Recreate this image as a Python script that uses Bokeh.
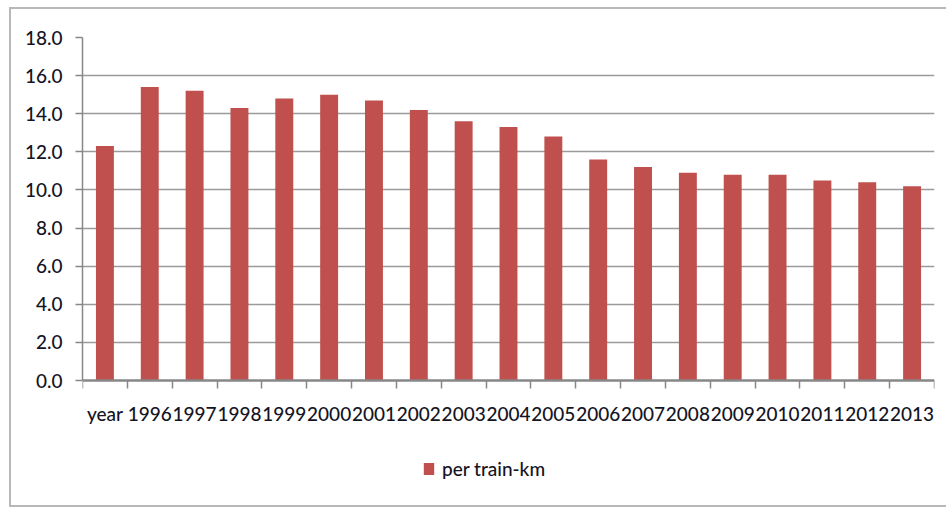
from bokeh.plotting import figure
from bokeh.models import (ColumnDataSource, Range1d, FixedTicker, Legend, LegendItem,
                          NumeralTickFormatter, InlineStyleSheet)
from bokeh.embed import file_html
from bokeh.resources import INLINE

# Category labels along the x axis (first row is the header cell "year")
categories = ["year", "1996", "1997", "1998", "1999", "2000", "2001", "2002", "2003",
              "2004", "2005", "2006", "2007", "2008", "2009", "2010", "2011", "2012", "2013"]
# Series values
per_train_km = [12.3, 15.4, 15.2, 14.3, 14.8, 15.0, 14.7, 14.2, 13.6,
                13.3, 12.8, 11.6, 11.2, 10.9, 10.8, 10.8, 10.5, 10.4, 10.2]
series_name = "per train-km"
# Value axis ticks
y_ticks = [0, 2, 4, 6, 8, 10, 12, 14, 16, 18]

FONT = "Lato Medium, Lato"
TEXT_COLOR = "#141424"
BAR_COLOR = "#C0504D"
GRID_COLOR = "#9a9a9a"
AXIS_COLOR = "#878787"
BORDER_COLOR = "#b8b8b8"

# layout (pixels): plot area 852 x 343, with room below it for labels and legend
PLOT_W, PLOT_H = 852, 343
LEFT, RIGHT, TOP, BELOW = 82, 12, 37, 128

n = len(categories)
centers = [i + 0.5 for i in range(n)]
bounds = list(range(n + 1))
y_max = y_ticks[-1]
y_min = -y_max * BELOW / PLOT_H   # frame continues below zero to hold labels/legend

source = ColumnDataSource(dict(x=centers, top=per_train_km, label=categories))

# thin chart-area border drawn behind the (transparent) canvas border region
border_css = InlineStyleSheet(css=f"""
:host {{
  background-color: white;
  background-image: linear-gradient({BORDER_COLOR}, {BORDER_COLOR}),
                    linear-gradient({BORDER_COLOR}, {BORDER_COLOR}),
                    linear-gradient({BORDER_COLOR}, {BORDER_COLOR});
  background-size: 2px 500px, 937px 2px, 937px 2px;
  background-position: 9px 7px, 9px 7px, 9px 505px;
  background-repeat: no-repeat;
}}
""")

p = figure(frame_width=PLOT_W, frame_height=PLOT_H + BELOW, output_backend="svg",
           toolbar_location=None,
           x_range=Range1d(0, n), y_range=Range1d(y_min, y_max),
           min_border_left=LEFT, min_border_right=RIGHT, min_border_top=TOP,
           min_border_bottom=0, background_fill_alpha=0,
           border_fill_alpha=0, stylesheets=[border_css])
p.outline_line_color = None

bars = p.vbar(x="x", top="top", bottom=0, width=0.4, source=source,
              fill_color=BAR_COLOR, line_color=None)

# x axis at y = 0: labels at category centres, tick marks on category boundaries
xa = p.xaxis[0]
xa.fixed_location = 0
xa.ticker = FixedTicker(ticks=centers, minor_ticks=bounds)
xa.major_label_overrides = {c: lab for c, lab in zip(centers, categories)}
xa.major_tick_line_color = None
xa.major_tick_in = 0
xa.major_tick_out = 0
xa.minor_tick_in = 0
xa.minor_tick_out = 8
xa.minor_tick_line_color = AXIS_COLOR
xa.minor_tick_line_width = 1.5
xa.axis_line_color = AXIS_COLOR
xa.axis_line_width = 2.5
xa.major_label_standoff = 13
xa.major_label_text_font = FONT
xa.major_label_text_font_size = "19px"
xa.major_label_text_color = TEXT_COLOR

# y axis, drawn only over the value range
ya = p.yaxis[0]
ya.bounds = (0, y_max)
ya.ticker = FixedTicker(ticks=y_ticks)
ya.formatter = NumeralTickFormatter(format="0.0")
ya.minor_tick_line_color = None
ya.major_tick_in = 0
ya.major_tick_out = 7
ya.major_tick_line_color = AXIS_COLOR
ya.major_tick_line_width = 1.5
ya.axis_line_color = AXIS_COLOR
ya.axis_line_width = 1.5
ya.major_label_standoff = 13
ya.major_label_text_font = FONT
ya.major_label_text_font_size = "19px"
ya.major_label_text_color = TEXT_COLOR

p.xgrid.grid_line_color = None
p.ygrid.ticker = FixedTicker(ticks=y_ticks[1:])
p.ygrid.grid_line_color = GRID_COLOR
p.ygrid.grid_line_width = 1.5

legend = Legend(items=[LegendItem(label=series_name, renderers=[bars])],
                location=(340, 28), orientation="horizontal",
                glyph_width=13, glyph_height=15, label_standoff=7,
                padding=0, margin=0, spacing=0,
                border_line_color=None, background_fill_alpha=0,
                label_text_font=FONT, label_text_font_size="19px",
                label_text_color=TEXT_COLOR)
p.add_layout(legend)

open("out.html", "w").write(file_html(p, INLINE))
